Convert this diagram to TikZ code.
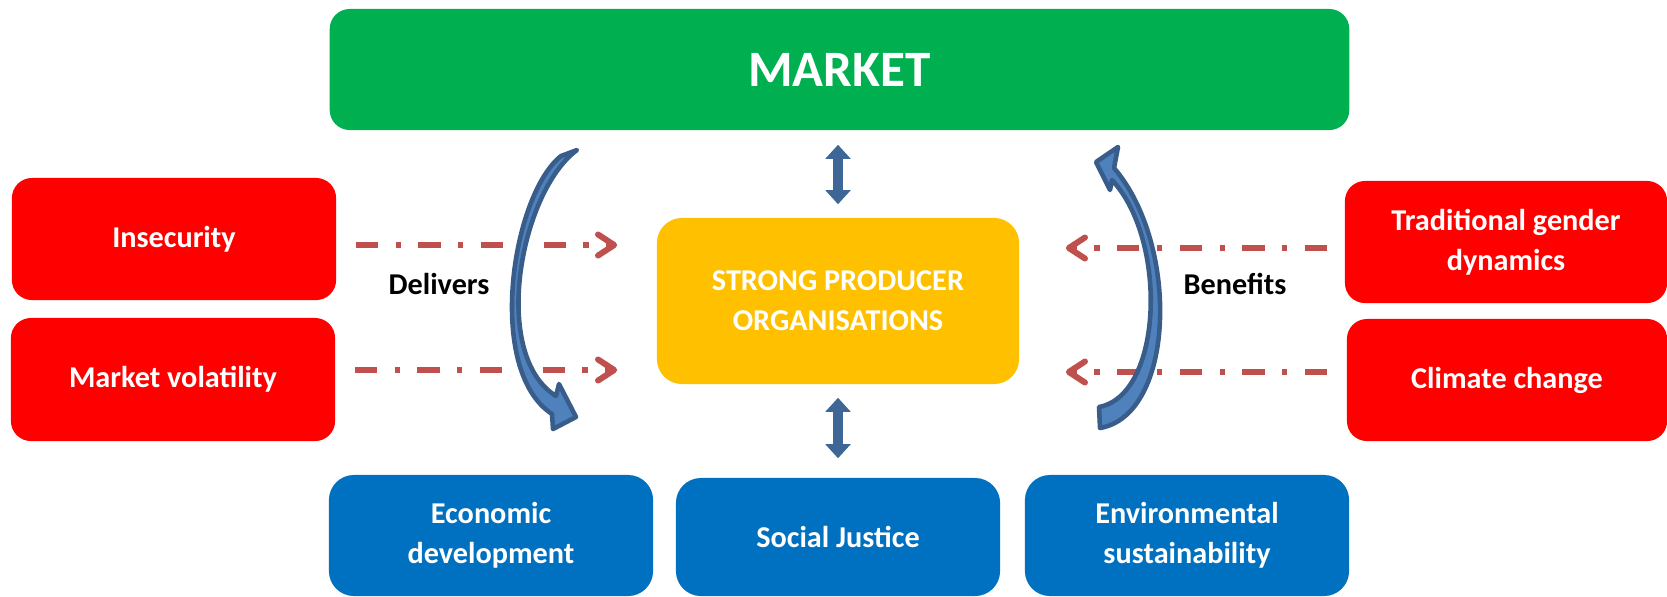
\documentclass[tikz,border=0pt]{standalone}
\usepackage{fontspec}
\setmainfont{Carlito}
\usetikzlibrary{arrows.meta}

\definecolor{mktgreen}{HTML}{00B050}
\definecolor{riskred}{HTML}{FF0000}
\definecolor{pogold}{HTML}{FFC000}
\definecolor{goalblue}{HTML}{0070C0}
\definecolor{dashred}{HTML}{C0504D}
\definecolor{curvefill}{HTML}{4F81BD}
\definecolor{curveline}{HTML}{385D8A}
\definecolor{linkblue}{HTML}{3E6696}

\tikzset{
  box/.style={rounded corners=0.2cm, text=white, align=center, inner sep=0pt,
    font=\fontsize{8.6}{11.4}\selectfont\bfseries},
  risk/.style={box, fill=riskred, minimum width=3.24cm, minimum height=1.22cm},
  goal/.style={box, fill=goalblue, minimum width=3.24cm, minimum height=1.21cm, rounded corners=0.25cm},
  threat/.style={dashred, line width=1.7pt, dash pattern=on 6.3pt off 5pt on 1.5pt off 5pt,
    -{Straight Barb[length=4.6pt,width=6pt,round]}},
  link/.style={linkblue, line width=2.8pt, {Triangle[length=4pt,width=7pt]}-{Triangle[length=4pt,width=7pt]}},
  curvearrow/.style={fill=curvefill, draw=curveline, line width=1.3pt, line join=round},
}

\begin{document}
\begin{tikzpicture}[x=0.01cm, y=-0.01cm]
\useasboundingbox (0,0) rectangle (1667,596);

% boxes
\node[box, fill=mktgreen, minimum width=10.19cm, minimum height=1.21cm,
  font=\fontsize{14.5}{16}\selectfont\bfseries] (market) at (839.5,69.5) {MARKET};
\node[risk] (insec) at (174,239) {Insecurity};
\node[risk, minimum height=1.23cm] (volat) at (173,379.5) {Market volatility};
\node[box, fill=pogold, minimum width=3.62cm, minimum height=1.66cm, rounded corners=0.25cm]
  (spo) at (838,301) {STRONG PRODUCER\\ORGANISATIONS};
\node[risk, minimum width=3.22cm] (gender) at (1506,242) {Traditional gender\\dynamics};
\node[risk, minimum width=3.2cm] (climate) at (1507,380) {Climate change};
\node[goal] (econ) at (491,535.5) {Economic\\development};
\node[goal, minimum height=1.18cm] (social) at (838,537) {Social Justice};
\node[goal] (env) at (1187,535.5) {Environmental\\sustainability};

\node[font=\fontsize{8.6}{11.4}\selectfont\bfseries] (deliv) at (439,284) {Delivers};
\node[font=\fontsize{8.6}{11.4}\selectfont\bfseries] (benef) at (1235,284) {Benefits};

% market <-> producers <-> justice
\draw[link, shorten <=0.14cm, shorten >=0.13cm] (spo.north |- market.south) -- (spo.north);
\draw[link, shorten <=0.13cm, shorten >=0.19cm] (spo.south) -- (social.north);

% pressures on the producers
\draw[threat, shorten <=0.19cm, shorten >=0.39cm] ([yshift=-0.06cm]insec.east) -- ([yshift=-0.06cm]insec.east -| spo.west);
\draw[threat, shorten <=0.19cm, shorten >=0.39cm] ([yshift=0.095cm]volat.east) -- ([yshift=0.095cm]volat.east -| spo.west);
\draw[threat, shorten <=0.17cm, shorten >=0.46cm] ([yshift=-0.06cm]gender.west) -- ([yshift=-0.06cm]gender.west -| spo.east);
\draw[threat, shorten <=0.19cm, shorten >=0.46cm] ([yshift=0.08cm]climate.west) -- ([yshift=0.08cm]climate.west -| spo.east);

% curved arrows
\path[curvearrow] (561,156) -- (577,150) .. controls (520,192) and (490,355) .. (556,396)
  -- (559,384) -- (576,417) -- (553,429) -- (552,414)
  .. controls (485,370) and (512,195) .. (561,156) -- cycle;
\path[curvearrow] (1099,407) -- (1100,428) .. controls (1175,415) and (1180,245) .. (1114,168)
  -- (1118,147) -- (1096,162) -- (1110,190) -- (1112,180)
  .. controls (1168,240) and (1163,395) .. (1099,407) -- cycle;
\end{tikzpicture}
\end{document}
